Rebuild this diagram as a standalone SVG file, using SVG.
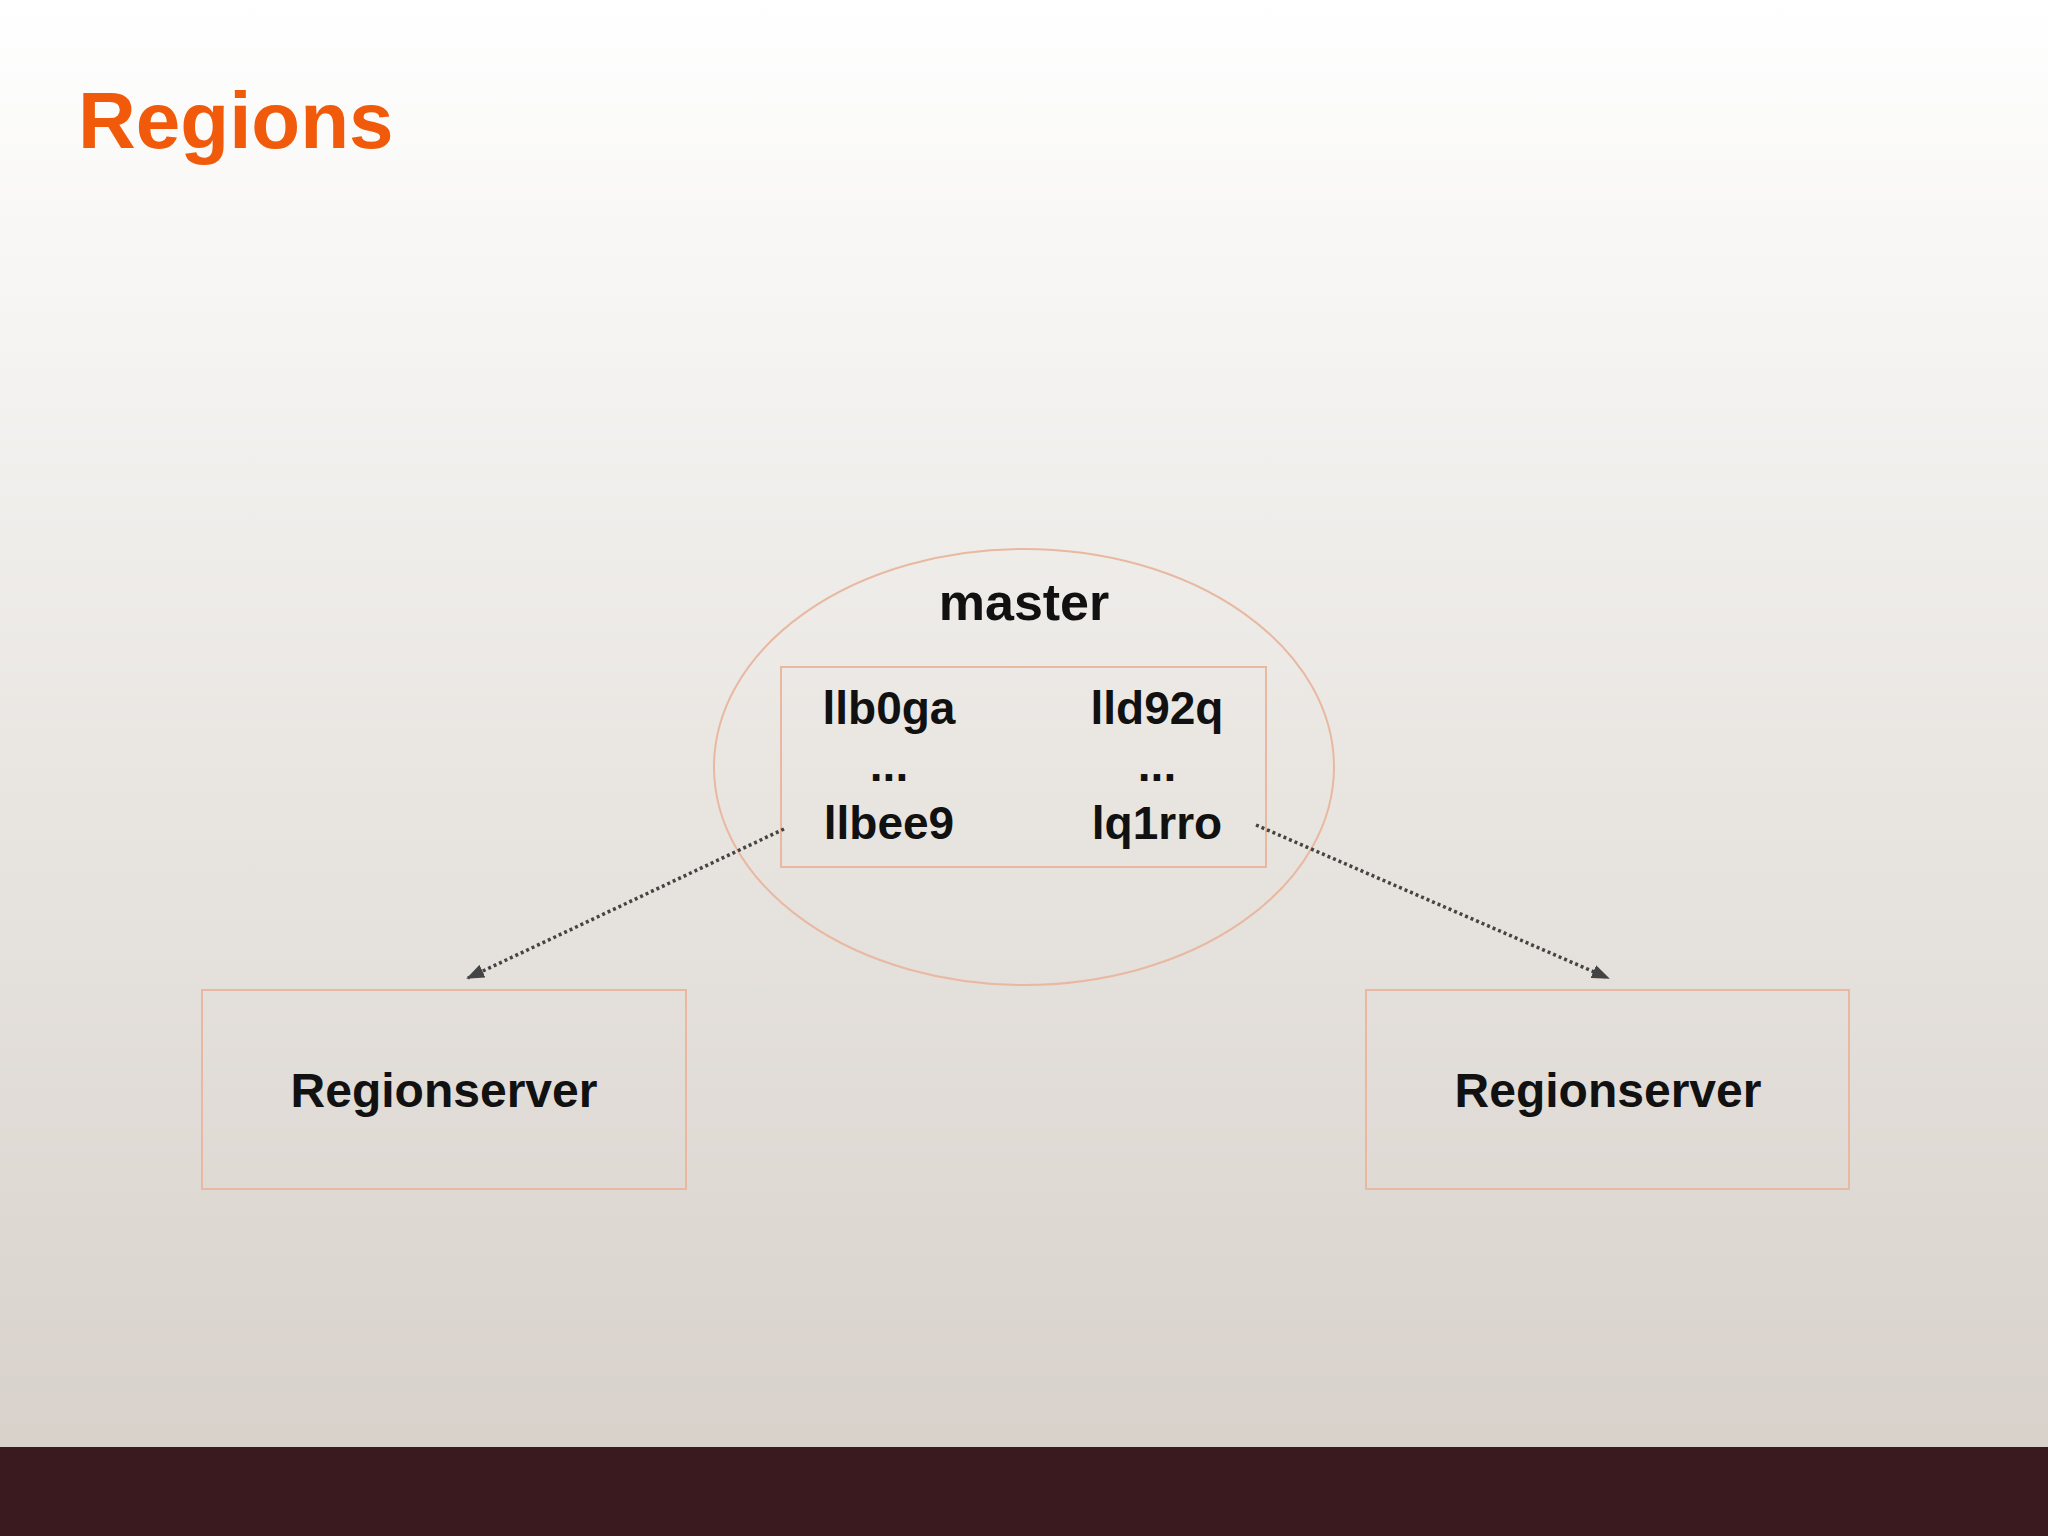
<svg xmlns="http://www.w3.org/2000/svg" width="2048" height="1536" viewBox="0 0 2048 1536">
<defs>
<linearGradient id="bg" x1="0" y1="0" x2="0" y2="1"><stop offset="0" stop-color="#ffffff"/><stop offset="0.35" stop-color="#efedea"/><stop offset="1" stop-color="#d6cfc8"/></linearGradient>
<marker id="ah" markerWidth="18" markerHeight="14" refX="16" refY="7" orient="auto" markerUnits="userSpaceOnUse"><path d="M0,0 L18,7 L0,14 Z" fill="#444"/></marker>
<style>
.t{font-family:"Liberation Sans",Arial,sans-serif;font-weight:bold;fill:#111;text-anchor:middle}
.box{fill:none;stroke:#e8b8a0;stroke-width:2}
.con{stroke:#444;stroke-width:3.5;stroke-dasharray:3 3;fill:none;marker-end:url(#ah)}
</style>
</defs>
<rect width="2048" height="1536" fill="url(#bg)"/>
<rect y="1447" width="2048" height="89" fill="#3a1a1e"/>
<text x="78" y="148" font-family="Liberation Sans,Arial,sans-serif" font-weight="bold" font-size="80" fill="#f05a0a">Regions</text>
<g id="master">
<ellipse cx="1024" cy="767" rx="310" ry="218" class="box"/>
<text class="t" x="1024" y="620" font-size="52">master</text>
</g>
<g id="regions">
<rect x="781" y="667" width="485" height="200" class="box"/>
<text class="t" x="889" y="724" font-size="46">llb0ga</text>
<text class="t" x="1157" y="724" font-size="46">lld92q</text>
<text class="t" x="889" y="781" font-size="46">...</text>
<text class="t" x="1157" y="781" font-size="46">...</text>
<text class="t" x="889" y="839" font-size="46">llbee9</text>
<text class="t" x="1157" y="839" font-size="46">lq1rro</text>
</g>
<g id="rs1"><rect x="202" y="990" width="484" height="199" class="box"/><text class="t" x="444" y="1107" font-size="48">Regionserver</text></g>
<g id="rs2"><rect x="1366" y="990" width="483" height="199" class="box"/><text class="t" x="1608" y="1107" font-size="48">Regionserver</text></g>
<g id="connectors">
<line x1="784" y1="829" x2="468" y2="978" class="con"/>
<line x1="1256" y1="825" x2="1608" y2="978" class="con"/>
</g>
</svg>
